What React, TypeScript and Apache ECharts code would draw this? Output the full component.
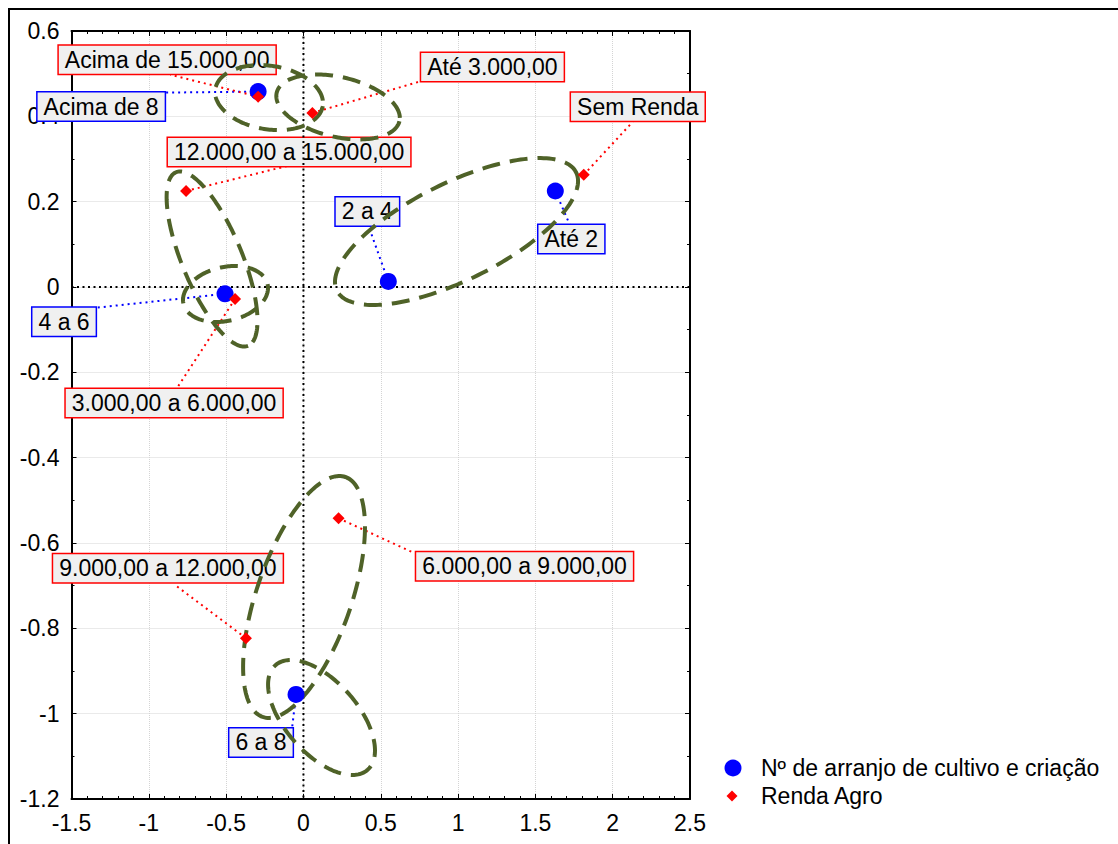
import React, { useEffect, useRef } from "react";
import * as echarts from "echarts";

const FONT = '"Liberation Sans", Arial, Helvetica, sans-serif';

// Series names
const blueName = "Nº de arranjo de cultivo e criação";
const redName = "Renda Agro";

// Blue points (Nº de arranjo)
const blueLabels = ["Até 2", "2 a 4", "4 a 6", "6 a 8", "Acima de 8"];
const blueX = [1.629, 0.549, -0.507, -0.048, -0.293];
const blueY = [0.225, 0.013, -0.016, -0.955, 0.458];

// Red points (Renda Agro)
const redLabels = [
  "Sem Renda",
  "Até 3.000,00",
  "3.000,00 a 6.000,00",
  "6.000,00 a 9.000,00",
  "9.000,00 a 12.000,00",
  "12.000,00 a 15.000,00",
  "Acima de 15.000,00",
];
const redX = [1.813, 0.058, -0.442, 0.227, -0.372, -0.759, -0.293];
const redY = [0.263, 0.408, -0.028, -0.542, -0.823, 0.225, 0.446];

// Confidence ellipses: centre and two conjugate half-axes, in data units
const ellCx = [-0.2225, 0.224, -0.591, -0.504, 0.99, 0.0039, 0.117];
const ellCy = [0.444, 0.422, 0.0656, -0.0164, 0.13, -0.7265, -1.009];
const ellUx = [0.3475, 0.397, 0.2329, 0.272, 0.7736, 0.2671, 0.298];
const ellUy = [-0.0199, -0.0333, -0.2034, 0.0231, 0.1385, 0.2812, -0.1226];
const ellVx = [-0.0321, -0.0437, -0.1792, 0.0397, 0.1391, 0.2898, -0.1753];
const ellVy = [-0.0736, -0.0684, -0.027, -0.0614, -0.1022, -0.0361, -0.056];

// Axis ranges
const xMin = -1.5;
const xMax = 2.5;
const xStep = 0.5;
const yMin = -1.2;
const yMax = 0.6;
const yStep = 0.2;

// Label layout (pixel offsets from marker): [boxDx, boxDy, leaderDx, leaderDy]
const blueLayout = [
  [16, 48, 15, 35],
  [-21, -70, -20, -56],
  [-161, 28, -130, 14],
  [-35, 48, -4, 34],
  [-157, 15, -92, 1],
];
const redLayout = [
  [54, -68, 49, -53],
  [180, -46, 106, -31],
  [-61, 104, -58, 89],
  [186, 48, 74, 34],
  [-78, -70, -72, -54],
  [103, -39, 101, -25],
  [-91, -37, -88, -22],
];

function labelRenderer(labels: string[], layout: number[][], color: string) {
  return (params: any, api: any) => {
    const i = params.dataIndex;
    const p = api.coord([api.value(0), api.value(1)]);
    const L = layout[i];
    return {
      type: "group",
      children: [
        {
          type: "line",
          silent: true,
          shape: { x1: p[0], y1: p[1], x2: p[0] + L[2], y2: p[1] + L[3] },
          style: { stroke: color, lineWidth: 2, lineDash: [2, 4], fill: null },
        },
        {
          type: "text",
          silent: true,
          x: p[0] + L[0],
          y: p[1] + L[1],
          style: {
            text: labels[i],
            align: "center",
            verticalAlign: "middle",
            fill: "#000",
            fontSize: 23,
            fontFamily: FONT,
            backgroundColor: "#f0f0f0",
            borderColor: color,
            borderWidth: 1.5,
            padding: [3, 6, 2, 6],
          },
        },
      ],
    };
  };
}

const fmt = (v: number) => String(parseFloat(Number(v).toFixed(1)));

export default function App() {
  const ref = useRef<HTMLDivElement>(null);

  useEffect(() => {
    if (!ref.current) return;
    const chart = echarts.init(ref.current, undefined, { renderer: "svg" });

    const blueData = blueX.map((x, i) => [x, blueY[i]]);
    const redData = redX.map((x, i) => [x, redY[i]]);
    const ellData = ellCx.map((c, i) => [c, ellCy[i], ellUx[i], ellUy[i], ellVx[i], ellVy[i]]);

    const tickCommon = {
      axisLine: { show: true, onZero: false, lineStyle: { color: "#000", width: 2 } },
      axisTick: { show: true, inside: true, length: 5, lineStyle: { color: "#000", width: 1 } },
    };
    const gridLine = { show: true, lineStyle: { color: "#d4d4d4", type: "dotted", width: 1 } };
    const labelStyle = { color: "#000", fontSize: 23, fontFamily: FONT };

    const option: any = {
      animation: false,
      textStyle: { fontFamily: FONT },
      graphic: [
        {
          type: "rect",
          silent: true,
          z: 100,
          shape: { x: 1, y: 1, width: 3000, height: 3000 },
          style: { fill: "none", stroke: "#000", lineWidth: 2 },
        },
      ],
      grid: { left: 63.5, top: 23, width: 618.5, height: 768, containLabel: false },
      xAxis: [
        {
          type: "value",
          position: "bottom",
          min: xMin,
          max: xMax,
          interval: xStep,
          ...tickCommon,
          minorTick: { show: true, splitNumber: 5, length: 3, lineStyle: { color: "#000", width: 1 } },
          axisLabel: { ...labelStyle, margin: 12, formatter: fmt, showMinLabel: true, showMaxLabel: true },
          splitLine: gridLine,
        },
        {
          type: "value",
          position: "top",
          min: xMin,
          max: xMax,
          interval: xStep,
          ...tickCommon,
          minorTick: { show: true, splitNumber: 5, length: 3, lineStyle: { color: "#000", width: 1 } },
          axisLabel: { show: false },
          splitLine: { show: false },
        },
      ],
      yAxis: [
        {
          type: "value",
          position: "left",
          min: yMin,
          max: yMax,
          interval: yStep,
          ...tickCommon,
          minorTick: { show: true, splitNumber: 2, length: 3, lineStyle: { color: "#000", width: 1 } },
          axisLabel: { ...labelStyle, margin: 12, formatter: fmt, showMinLabel: true, showMaxLabel: true },
          splitLine: gridLine,
        },
        {
          type: "value",
          position: "right",
          min: yMin,
          max: yMax,
          interval: yStep,
          ...tickCommon,
          minorTick: { show: true, splitNumber: 2, length: 3, lineStyle: { color: "#000", width: 1 } },
          axisLabel: { show: false },
          splitLine: { show: false },
        },
      ],
      legend: [
        {
          data: [{ name: blueName, icon: "circle" }],
          orient: "vertical",
          left: 716.5,
          top: 748.5,
          padding: 0,
          itemWidth: 17,
          itemHeight: 17,
          selectedMode: false,
          textStyle: { color: "#000", fontSize: 23, fontFamily: FONT, padding: [0, 0, 0, 14.5] },
        },
        {
          data: [{ name: redName, icon: "diamond" }],
          orient: "vertical",
          left: 718.5,
          top: 776.5,
          padding: 0,
          itemWidth: 11,
          itemHeight: 11,
          selectedMode: false,
          textStyle: { color: "#000", fontSize: 23, fontFamily: FONT, padding: [0, 0, 0, 18.5] },
        },
      ],
      series: [
        {
          type: "custom",
          name: "blue-labels",
          xAxisIndex: 0,
          yAxisIndex: 0,
          data: blueData,
          encode: { x: 0, y: 1 },
          renderItem: labelRenderer(blueLabels, blueLayout, "#0000ff"),
          silent: true,
        },
        {
          type: "custom",
          name: "red-labels",
          xAxisIndex: 0,
          yAxisIndex: 0,
          data: redData,
          encode: { x: 0, y: 1 },
          renderItem: labelRenderer(redLabels, redLayout, "#ff0000"),
          silent: true,
        },
        {
          type: "custom",
          name: "zero-lines",
          xAxisIndex: 0,
          yAxisIndex: 0,
          data: [[0, 0]],
          encode: { x: 0, y: 1 },
          silent: true,
          renderItem: (params: any, api: any) => {
            const cs = params.coordSys;
            const p = api.coord([api.value(0), api.value(1)]);
            const st = { stroke: "#000", lineWidth: 2, lineDash: [2, 3.5], fill: null };
            return {
              type: "group",
              children: [
                { type: "line", shape: { x1: p[0], y1: cs.y, x2: p[0], y2: cs.y + cs.height }, style: st },
                { type: "line", shape: { x1: cs.x, y1: p[1], x2: cs.x + cs.width, y2: p[1] }, style: st },
              ],
            };
          },
        },
        {
          type: "scatter",
          name: blueName,
          data: blueData,
          symbol: "circle",
          symbolSize: 17,
          itemStyle: { color: "#0000ff", opacity: 1 },
          silent: true,
        },
        {
          type: "scatter",
          name: redName,
          data: redData,
          symbol: "diamond",
          symbolSize: 12,
          itemStyle: { color: "#ff0000", opacity: 1 },
          silent: true,
        },
        {
          type: "custom",
          name: "ellipses",
          data: ellData,
          encode: { x: 0, y: 1 },
          silent: true,
          renderItem: (params: any, api: any) => {
            const cx = api.value(0);
            const cy = api.value(1);
            const ux = api.value(2);
            const uy = api.value(3);
            const vx = api.value(4);
            const vy = api.value(5);
            const pts: number[][] = [];
            const N = 180;
            for (let k = 0; k < N; k++) {
              const t = (2 * Math.PI * k) / N;
              const c = Math.cos(t);
              const s = Math.sin(t);
              pts.push(api.coord([cx + ux * c + vx * s, cy + uy * c + vy * s]));
            }
            return {
              type: "polygon",
              shape: { points: pts },
              style: { fill: "none", stroke: "#4f6228", lineWidth: 4, lineDash: [18, 10] },
            };
          },
        },
      ],
    };

    chart.setOption(option);
    return () => chart.dispose();
  }, []);

  return (
    <div
      ref={ref}
      style={{ position: "absolute", left: 8, top: 8, width: 1110, height: 836, background: "#fff" }}
    />
  );
}
